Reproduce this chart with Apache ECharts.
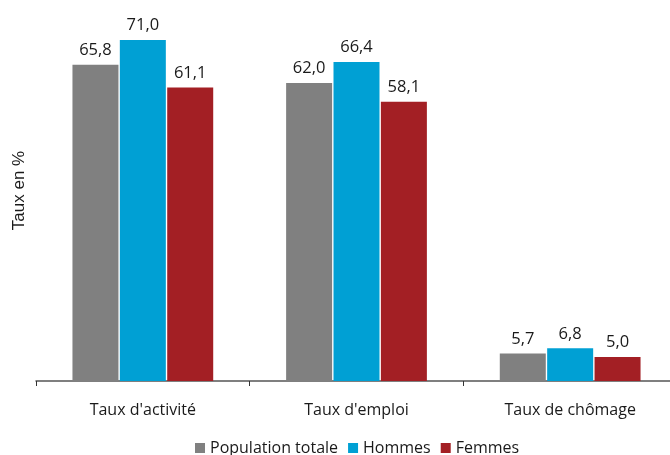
<!DOCTYPE html>
<html>
<head>
<meta charset="utf-8">
<script src="https://cdn.jsdelivr.net/npm/echarts@6/dist/echarts.min.js"></script>
<style>html,body{margin:0;padding:0;background:#fff}#c{width:670px;height:455px}</style>
</head>
<body>
<div id="c"></div>
<script>
const categories = ["Taux d'activité", "Taux d'emploi", "Taux de chômage"];
const populationTotale = [65.8, 62.0, 5.7];
const hommes = [71.0, 66.4, 6.8];
const femmes = [61.1, 58.1, 5.0];
const seriesNames = ["Population totale", "Hommes", "Femmes"];
const colors = ["#808080", "#00A0D4", "#A31F24"];
const yAxisTitle = "Taux en %";

const FONT = "Open Sans";
const chart = echarts.init(document.getElementById('c'), null, {renderer: 'canvas'});
const fmt = p => p.value.toFixed(1).replace('.', ',');
function mk(name, data, color) {
  return {
    name: name, type: 'bar', data: data, barWidth: 46, barGap: '3%',
    itemStyle: {color: color},
    label: {show: true, position: 'top', distance: 6, formatter: fmt,
      fontFamily: FONT, fontSize: 16.5, color: '#1a1a1a'}
  };
}
chart.setOption({
  animation: false,
  textStyle: {fontFamily: FONT},
  grid: {left: 36, top: 0, width: 641, height: 381, containLabel: false, outerBoundsMode: 'none'},
  legend: {
    top: 435, left: 190, itemWidth: 10, itemHeight: 10, itemGap: 10,
    icon: 'rect',
    textStyle: {fontFamily: FONT, fontSize: 16, color: '#1a1a1a'},
    data: seriesNames
  },
  xAxis: {
    type: 'category', data: categories,
    axisLine: {lineStyle: {color: '#555', width: 1.5}},
    axisTick: {show: true, length: 5, lineStyle: {color: '#333'}},
    axisLabel: {fontFamily: FONT, fontSize: 16, color: '#1a1a1a', margin: 21}
  },
  yAxis: {
    type: 'value', min: 0, max: 79.3,
    name: yAxisTitle, nameLocation: 'middle', nameGap: 8, nameRotate: 90,
    nameTextStyle: {fontFamily: 'Liberation Sans', fontSize: 17, color: '#1a1a1a'},
    axisLine: {show: false}, axisTick: {show: false}, axisLabel: {show: false},
    splitLine: {show: false}
  },
  series: [
    mk(seriesNames[0], populationTotale, colors[0]),
    mk(seriesNames[1], hommes, colors[1]),
    mk(seriesNames[2], femmes, colors[2])
  ]
});
</script>
</body>
</html>
